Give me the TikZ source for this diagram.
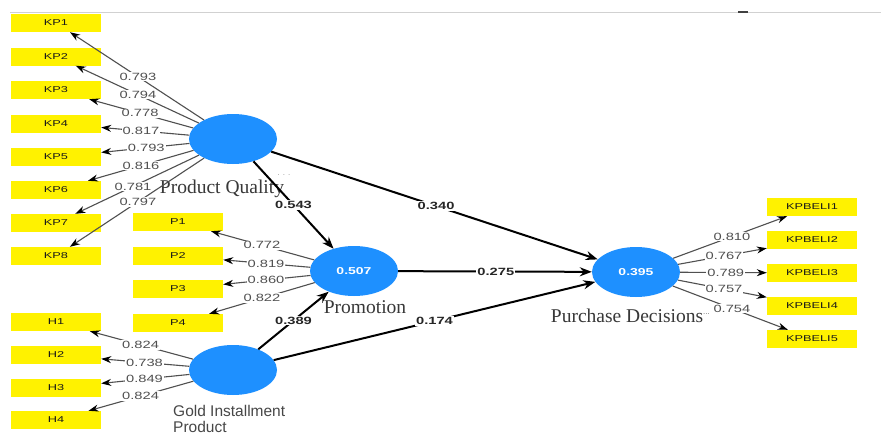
\documentclass[tikz,border=0pt]{standalone}
\usepackage{fontspec}
\setmainfont{Liberation Serif}
\newfontfamily\numfont[FakeStretch=1.4]{Liberation Sans}
\newfontfamily\boxfont[FakeStretch=1.5]{Liberation Sans}
\newfontfamily\gsans{Liberation Sans}
\usetikzlibrary{arrows.meta,calc,shapes.geometric}
\definecolor{boxyellow}{RGB}{255,242,0}
\definecolor{lvblue}{RGB}{30,144,255}
\definecolor{lblgray}{RGB}{80,80,80}
\begin{document}
\begin{tikzpicture}[x=1pt,y=-1pt,
 ind/.style={fill=boxyellow, minimum width=90pt, minimum height=18pt, inner sep=0pt, font=\boxfont\fontsize{8.5}{9}\selectfont, text=black!90},
 lv/.style={ellipse, fill=lvblue, minimum width=88pt, minimum height=50pt, inner sep=0pt, font=\numfont\bfseries\fontsize{10}{11}\selectfont, text=white},
 load/.style={draw=lblgray, line width=1.1pt, -{Stealth[length=10pt,width=7pt,color=black]}},
 pathar/.style={draw=black, line width=2pt, -{Stealth[length=12pt,width=9pt]}},
 ll/.style={fill=white, inner sep=1pt, font=\numfont\fontsize{10.5}{11}\selectfont, text=lblgray},
 pl/.style={fill=white, inner sep=1pt, font=\numfont\bfseries\fontsize{10.5}{11}\selectfont, text=black!85},
 lvname/.style={anchor=base, inner sep=0pt, font=\fontsize{19.5}{20}\selectfont, text=black!78}
]
\useasboundingbox (0,0) rectangle (881,434);
\fill[white] (0,0) rectangle (881,434);
% top rule
\draw[black!18, line width=1pt] (10,12) -- (881,12);
\draw[black!75, line width=1.6pt] (738,12) -- (748,12);

% indicator boxes
\foreach \i/\yy in {1/23,2/56.5,3/90,4/123.5,5/157,6/190,7/223,8/256}
  \node[ind] (KP\i) at (56,\yy) {KP\i};
\foreach \i/\yy in {1/222,2/256,3/289,4/323}
  \node[ind] (P\i) at (178,\yy) {P\i};
\foreach \i/\yy in {1/322,2/355,3/388,4/420}
  \node[ind] (H\i) at (56,\yy) {H\i};
\foreach \i/\yy in {1/207,2/240,3/273,4/306,5/339}
  \node[ind] (KB\i) at (812,\yy) {KPBELI\i};

% latent variables
\node[lv] (PQ) at (233,139) {};
\node[lv] (PROM) at (354,271) {0.507};
\node[lv] (PD) at (636,272) {0.395};
\node[lv] (GIP) at (233,370) {};

% names
\node[lvname] (nPQ) at (222,193) {Product Quality};
\node[inner sep=0pt, text=black!40, font=\gsans\fontsize{8}{8}\selectfont] (dPQ) at (284,175) {. . .};
\node[lvname] (nPROM) at (365,313) {Promotion};
\node[lvname] (nPD) at (627,322) {Purchase Decisions};
\node[anchor=base west, inner sep=0pt, text=black!55, font=\gsans\fontsize{8}{8}\selectfont] (dPD) at (703,314) {...};
\node[anchor=north west, align=left, inner sep=0pt, text=black!72, font=\gsans\fontsize{15.5}{16}\selectfont] (nGIP) at (173,405) {Gold Installment\\Product};

% loadings
\foreach \i in {1,...,8}
  \draw[load] (PQ) -- (KP\i);
\foreach \i in {1,...,4}
  \draw[load] (PROM) -- (P\i);
\foreach \i in {1,...,4}
  \draw[load] (GIP) -- (H\i);
\foreach \i in {1,...,5}
  \draw[load] (PD) -- (KB\i);

\foreach \i/\t/\v in {1/0.537/0.793,2/0.537/0.794,3/0.525/0.778,4/0.52/0.817,5/0.49/0.793,6/0.52/0.816,7/0.565/0.781,8/0.537/0.797}
  \node[ll] (lKP\i) at ($(PQ.center)!\t!(KP\i.center)$) {\v};
\foreach \i/\t/\v in {1/0.523/0.772,2/0.5/0.819,3/0.5/0.860,4/0.523/0.822}
  \node[ll] (lP\i) at ($(PROM.center)!\t!(P\i.center)$) {\v};
\foreach \i/\t/\v in {1/0.522/0.824,2/0.5/0.738,3/0.5/0.849,4/0.522/0.824}
  \node[ll] (lH\i) at ($(GIP.center)!\t!(H\i.center)$) {\v};
\foreach \i/\t/\v in {1/0.545/0.810,2/0.5/0.767,3/0.51/0.789,4/0.5/0.757,5/0.545/0.754}
  \node[ll] (lKB\i) at ($(PD.center)!\t!(KB\i.center)$) {\v};

% structural paths
\draw[pathar] (PQ) -- (PROM);
\draw[pathar] (PQ) -- (PD);
\draw[pathar] (PROM) -- (PD);
\draw[pathar] (GIP) -- (PROM);
\draw[pathar] (GIP) -- (PD);
\node[pl] (c1) at ($(PQ.center)!0.5!(PROM.center)$) {0.543};
\node[pl] (c2) at ($(PQ.center)!0.504!(PD.center)$) {0.340};
\node[pl] (c3) at ($(PROM.center)!0.503!(PD.center)$) {0.275};
\node[pl] (c4) at ($(GIP.center)!0.5!(PROM.center)$) {0.389};
\node[pl] (c5) at ($(GIP.center)!0.5!(PD.center)$) {0.174};
\end{tikzpicture}
\end{document}
